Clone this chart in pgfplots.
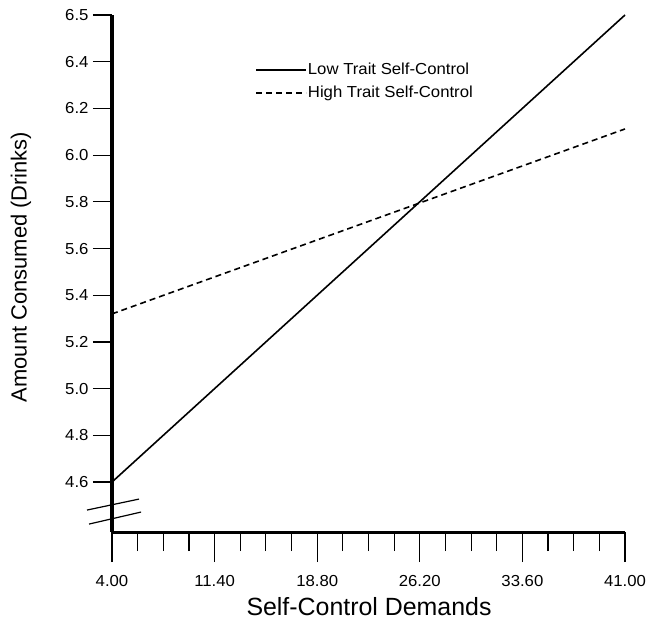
\documentclass[border=0pt]{standalone}
\usepackage{fontspec}
\setmainfont{Liberation Sans}
\newfontfamily\widefont[FakeStretch=1.05]{Liberation Sans}
\usepackage{pgfplots}
\pgfplotsset{compat=1.18}
\begin{document}
\begin{tikzpicture}
\useasboundingbox (-112bp,-92bp) rectangle (537bp,532bp);
\begin{axis}[
  at={(0,0)}, anchor=south west,
  scale only axis,
  width=513bp, height=517bp,
  xmin=4, xmax=41,
  ymin=4.386, ymax=6.6,
  axis x line=bottom, axis y line=left,
  x axis line style={-, line width=3bp},
  y axis line style={-, line width=3.5bp},
  tick align=outside,
  xtick={4,11.4,18.8,26.2,33.6,41},
  xticklabels={4.00,11.40,18.80,26.20,33.60,41.00},
  minor x tick num=3,
  ytick={4.6,4.8,5.0,5.2,5.4,5.6,5.8,6.0,6.2,6.4,6.6},
  yticklabels={4.6,4.8,5.0,5.2,5.4,5.6,5.8,6.0,6.2,6.4,6.5},
  major tick length=19bp,
  xtick style={line width=1.2bp, black, /pgfplots/major tick length=30bp, /pgfplots/minor tick length=19bp},
  ytick style={line width=1.2bp, black},
  ticklabel style={font=\widefont\fontsize{16}{18}\selectfont},
  xticklabel style={anchor=north, yshift=-21bp},
  yticklabel style={anchor=east, xshift=-1bp},
  xlabel={Self-Control Demands},
  ylabel={Amount Consumed (Drinks)},
  xlabel style={font=\fontsize{25}{30}\selectfont, at={(axis description cs:0.501,0)}, anchor=center, yshift=-75bp},
  ylabel style={font=\fontsize{22}{26}\selectfont, at={(axis description cs:0,0.5126)}, anchor=center, yshift=91bp},
  clip=false,
  legend style={draw=none, fill=none, at={(axis description cs:0.279,0.909)}, anchor=north west,
    font=\widefont\fontsize{16}{18}\selectfont, inner sep=0pt, row sep=8bp,
    nodes={inner sep=1bp}},
  legend cell align=left,
  legend image code/.code={\draw[#1] (0bp,0bp) -- (50bp,0bp);},
]
\addplot[black, line width=1.6bp] coordinates {(4,4.60) (41,6.60)};
\addlegendentry{Low Trait Self-Control}
\addplot[black, line width=1.6bp, dash pattern=on 6bp off 4bp] coordinates {(4,5.32) (41,6.112)};
\addlegendentry{High Trait Self-Control}
\draw[black, line width=1.2bp] (axis cs:2.2,4.480) -- (axis cs:5.95,4.527);
\draw[black, line width=1.2bp] (axis cs:2.35,4.420) -- (axis cs:6.1,4.4715);
\end{axis}
\end{tikzpicture}
\end{document}
